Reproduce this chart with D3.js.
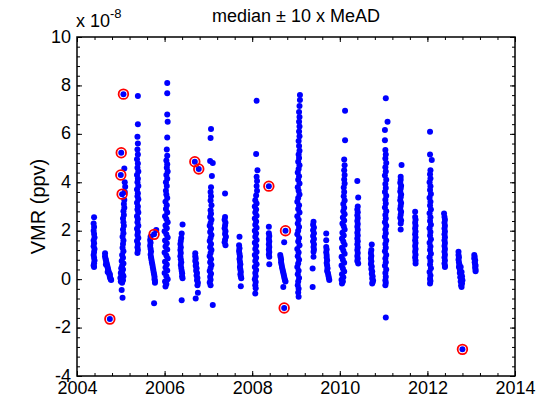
<!DOCTYPE html>
<html lang="en">
<head>
<meta charset="UTF-8">
<title>median ± 10 x MeAD</title>
<script src="https://d3js.org/d3.v7.min.js"></script>
<style>
  body { margin: 0; background: #fff; }
  svg text { font-family: "Liberation Sans", Arial, Helvetica, sans-serif; fill: #000; }
</style>
</head>
<body>
<svg id="chart" width="550" height="399"></svg>
<script>
// 测量点 [year, VMR in 1e-8 ppv], grouped by campaign year
const obs2004 = [
  [2004.39,2.56],[2004.38,2.3],[2004.39,2.15],[2004.38,2.0],[2004.39,1.86],[2004.40,1.72],[2004.38,1.6],[2004.39,1.48],
  [2004.38,1.36],[2004.40,1.24],[2004.39,1.12],[2004.38,1.0],[2004.39,0.88],[2004.40,0.77],[2004.39,0.66],[2004.38,0.56],[2004.39,0.5],
  [2004.64,1.07],[2004.64,0.95],[2004.65,0.85],[2004.66,0.78],[2004.67,0.7],[2004.68,0.62],[2004.69,0.55],[2004.70,0.48],
  [2004.71,0.4],[2004.72,0.33],[2004.73,0.25],[2004.74,0.18],[2004.75,0.1],[2004.76,0.05],[2004.77,0.0],[2004.78,-0.04],
  [2004.66,0.6],[2004.70,0.3],[2004.75,0.2]
];
const obs2005 = [
  [2005.08,4.57],[2005.09,4.0],[2005.10,3.82],[2005.09,3.6],[2005.08,3.27],[2005.07,3.1],[2005.08,2.95],[2005.06,2.8],
  [2005.07,2.65],[2005.05,2.5],[2005.06,2.35],[2005.07,2.2],[2005.05,2.05],[2005.06,1.9],[2005.04,1.75],[2005.06,1.6],
  [2005.05,1.45],[2005.04,1.3],[2005.06,1.15],[2005.03,1.0],[2005.05,0.88],[2005.02,0.75],[2005.06,0.65],[2005.03,0.55],
  [2005.01,0.45],[2005.05,0.4],[2005.02,0.32],[2005.00,0.25],[2005.04,0.2],[2005.06,0.12],[2005.01,0.1],[2004.99,0.05],
  [2005.03,0.02],[2005.05,-0.05],[2005.00,-0.1],[2005.03,-0.15],[2005.02,-0.45],[2005.04,-0.77],
  [2005.39,7.56],[2005.39,6.4],[2005.38,5.88],[2005.39,5.6],[2005.38,5.35],[2005.39,5.15],[2005.37,4.95],[2005.39,4.78],
  [2005.38,4.6],[2005.40,4.45],[2005.37,4.3],[2005.39,4.15],[2005.38,4.0],[2005.40,3.85],[2005.37,3.7],[2005.39,3.55],
  [2005.38,3.42],[2005.40,3.3],[2005.37,3.15],[2005.39,3.0],[2005.38,2.88],[2005.40,2.75],[2005.37,2.6],[2005.39,2.48],
  [2005.38,2.35],[2005.40,2.2],[2005.37,2.08],[2005.39,1.95],[2005.38,1.82],[2005.40,1.7],[2005.37,1.58],[2005.39,1.45],
  [2005.38,1.32],[2005.39,1.2],[2005.38,1.08],
  [2005.81,2.03],[2005.68,1.75],[2005.67,1.62],[2005.68,1.5],[2005.67,1.38],[2005.68,1.26],[2005.69,1.14],[2005.68,1.02],
  [2005.69,0.9],[2005.70,0.8],[2005.71,0.7],[2005.72,0.6],[2005.73,0.5],[2005.74,0.4],[2005.75,0.3],[2005.76,0.2],
  [2005.77,0.1],[2005.77,0.0],[2005.78,-0.08],[2005.78,-0.15],[2005.76,-1.0]
];
const obs2006 = [
  [2006.06,8.1],[2006.06,7.68],[2006.06,6.8],[2006.07,6.5],[2006.06,5.85],[2006.05,5.35],[2006.06,5.1],[2006.04,4.9],
  [2006.06,4.75],[2006.05,4.6],[2006.07,4.45],[2006.04,4.3],[2006.06,4.15],[2006.03,4.0],[2006.05,3.85],[2006.03,3.65],
  [2006.04,3.5],[2006.06,3.35],[2006.02,3.2],[2006.05,3.05],[2006.03,2.9],[2006.06,2.75],[2006.01,2.6],[2006.04,2.48],
  [2006.07,2.35],[2006.02,2.22],[2006.05,2.1],[2006.00,1.98],[2006.04,1.85],[2006.07,1.72],[2006.01,1.6],[2006.05,1.48],
  [2006.02,1.35],[2006.06,1.22],[2006.00,1.1],[2006.04,0.98],[2006.07,0.85],[2006.01,0.72],[2006.05,0.6],[2006.02,0.48],
  [2006.06,0.36],[2006.00,0.25],[2006.04,0.12],[2006.07,0.0],[2006.01,-0.1],[2006.04,-0.2],[2006.02,-0.3],
  [2006.41,2.26],[2006.39,1.89],[2006.38,1.7],[2006.37,1.58],[2006.36,1.45],[2006.37,1.32],[2006.36,1.2],[2006.37,1.08],
  [2006.36,0.95],[2006.37,0.82],[2006.38,0.7],[2006.37,0.58],[2006.38,0.46],[2006.39,0.35],[2006.40,0.24],[2006.40,0.12],
  [2006.41,0.04],[2006.39,-0.87],
  [2006.70,1.07],[2006.70,0.95],[2006.71,0.85],[2006.70,0.75],[2006.72,0.65],[2006.71,0.55],[2006.73,0.45],[2006.72,0.35],
  [2006.74,0.25],[2006.73,0.15],[2006.75,0.05],[2006.74,-0.05],[2006.76,-0.15],[2006.75,-0.25],[2006.76,-0.56],[2006.71,-0.8]
];
const obs2007 = [
  [2007.06,6.2],[2007.05,5.83],[2007.04,4.88],[2007.10,4.8],[2007.08,4.26],[2007.06,3.8],[2007.05,3.6],[2007.06,3.42],
  [2007.05,3.25],[2007.07,3.05],[2007.05,2.85],[2007.06,2.7],[2007.04,2.57],[2007.07,2.45],[2007.05,2.32],[2007.03,2.2],
  [2007.06,2.08],[2007.04,1.95],[2007.07,1.82],[2007.05,1.7],[2007.03,1.58],[2007.06,1.45],[2007.04,1.32],[2007.07,1.2],
  [2007.05,1.08],[2007.03,0.95],[2007.06,0.82],[2007.04,0.7],[2007.07,0.58],[2007.05,0.46],[2007.03,0.34],[2007.06,0.22],
  [2007.04,0.1],[2007.05,-0.02],[2007.03,-0.14],[2007.05,-0.25],[2007.10,-1.07],
  [2007.38,3.54],[2007.38,2.57],[2007.37,2.45],[2007.39,2.33],[2007.38,2.22],[2007.37,2.1],[2007.39,1.98],[2007.38,1.86],
  [2007.40,1.75],[2007.38,1.63],[2007.37,1.52],[2007.39,1.4],
  [2007.71,1.75],[2007.70,1.4],[2007.71,1.28],[2007.70,1.16],[2007.71,1.05],[2007.72,0.94],[2007.71,0.83],[2007.72,0.72],
  [2007.73,0.61],[2007.72,0.5],[2007.73,0.4],[2007.74,0.3],[2007.73,0.2],[2007.74,0.12],[2007.75,0.04],[2007.74,-0.29]
];
const obs2008 = [
  [2008.10,7.37],[2008.09,5.17],[2008.12,4.5],[2008.10,4.23],[2008.11,4.05],[2008.10,3.85],[2008.11,3.65],[2008.09,3.45],
  [2008.07,3.26],[2008.10,3.12],[2008.06,3.0],[2008.09,2.88],[2008.07,2.75],[2008.10,2.62],[2008.06,2.5],[2008.09,2.38],
  [2008.07,2.25],[2008.10,2.12],[2008.06,2.0],[2008.09,1.88],[2008.07,1.75],[2008.10,1.62],[2008.06,1.5],[2008.09,1.38],
  [2008.07,1.25],[2008.10,1.12],[2008.06,1.0],[2008.09,0.88],[2008.07,0.75],[2008.10,0.62],[2008.06,0.5],[2008.09,0.38],
  [2008.07,0.25],[2008.08,0.12],[2008.06,0.0],[2008.08,-0.12],[2008.07,-0.25],[2008.08,-0.38],[2008.07,-0.59],
  [2008.38,2.16],[2008.38,1.9],[2008.39,1.78],[2008.38,1.66],[2008.39,1.55],[2008.38,1.44],[2008.39,1.33],[2008.38,1.22],
  [2008.39,1.12],[2008.38,1.02],[2008.39,0.92],[2008.39,0.62],
  [2008.73,1.52],[2008.64,1.0],[2008.65,0.9],[2008.66,0.8],[2008.66,0.7],[2008.67,0.6],[2008.68,0.5],[2008.69,0.42],
  [2008.70,0.34],[2008.71,0.26],[2008.72,0.18],[2008.73,0.1],[2008.74,0.02],[2008.75,-0.06],[2008.76,-0.1],[2008.71,-0.32]
];
const obs2009 = [
  [2009.09,7.6],[2009.09,7.4],[2009.08,7.15],[2009.07,6.9],[2009.08,6.7],[2009.07,6.5],[2009.08,6.3],[2009.07,6.1],
  [2009.08,5.9],[2009.06,5.7],[2009.07,5.5],[2009.08,5.3],[2009.06,5.15],[2009.07,5.0],[2009.05,4.85],[2009.08,4.7],
  [2009.06,4.55],[2009.04,4.4],[2009.07,4.25],[2009.05,4.1],[2009.08,3.95],[2009.04,3.8],[2009.06,3.65],[2009.08,3.5],
  [2009.05,3.35],[2009.03,3.2],[2009.07,3.05],[2009.05,2.9],[2009.08,2.75],[2009.03,2.6],[2009.06,2.45],[2009.04,2.3],
  [2009.07,2.15],[2009.05,2.0],[2009.03,1.85],[2009.07,1.7],[2009.05,1.55],[2009.08,1.4],[2009.03,1.25],[2009.06,1.1],
  [2009.04,0.95],[2009.07,0.8],[2009.05,0.65],[2009.03,0.5],[2009.06,0.35],[2009.04,0.2],[2009.07,0.05],[2009.05,-0.1],
  [2009.04,-0.25],[2009.06,-0.4],[2009.05,-0.55],[2009.06,-0.73],
  [2009.40,2.37],[2009.39,2.25],[2009.41,2.13],[2009.39,2.02],[2009.41,1.9],[2009.39,1.78],[2009.41,1.66],[2009.39,1.55],
  [2009.41,1.44],[2009.40,1.33],[2009.41,1.22],[2009.40,1.13],[2009.40,0.92],[2009.38,0.44],[2009.38,-0.32],
  [2009.69,1.89],[2009.69,1.61],[2009.69,1.33],[2009.70,1.22],[2009.69,1.11],[2009.70,1.0],[2009.70,0.89],[2009.71,0.78],
  [2009.70,0.67],[2009.71,0.56],[2009.72,0.45],[2009.71,0.34],[2009.73,0.24],[2009.74,0.14],[2009.75,0.05],[2009.76,-0.04]
];
const obs2010 = [
  [2010.12,6.95],[2010.12,5.74],[2010.10,4.94],[2010.11,4.7],[2010.10,4.5],[2010.11,4.3],[2010.10,4.12],[2010.11,3.95],
  [2010.09,3.78],[2010.10,3.6],[2010.09,3.42],[2010.11,3.25],[2010.08,3.1],[2010.10,2.95],[2010.08,2.8],[2010.11,2.68],
  [2010.07,2.55],[2010.10,2.42],[2010.06,2.3],[2010.09,2.18],[2010.11,2.05],[2010.06,1.92],[2010.09,1.8],[2010.05,1.68],
  [2010.08,1.55],[2010.11,1.42],[2010.05,1.3],[2010.08,1.18],[2010.11,1.05],[2010.04,0.92],[2010.07,0.8],[2010.10,0.68],
  [2010.04,0.56],[2010.07,0.44],[2010.10,0.32],[2010.05,0.2],[2010.08,0.08],[2010.04,-0.02],[2010.07,-0.1],[2010.05,-0.18],
  [2010.40,4.05],[2010.42,3.37],[2010.41,3.0],[2010.40,2.88],[2010.41,2.76],[2010.40,2.64],[2010.41,2.52],[2010.40,2.4],
  [2010.41,2.28],[2010.40,2.16],[2010.41,2.04],[2010.40,1.92],[2010.41,1.8],[2010.40,1.68],[2010.41,1.56],[2010.40,1.44],
  [2010.41,1.32],[2010.40,1.2],[2010.41,1.08],[2010.40,0.96],[2010.41,0.85],[2010.40,0.75],[2010.42,0.65],
  [2010.73,1.43],[2010.72,1.2],[2010.71,1.08],[2010.72,0.96],[2010.71,0.85],[2010.72,0.74],[2010.71,0.63],[2010.73,0.52],
  [2010.72,0.42],[2010.74,0.32],[2010.73,0.22],[2010.75,0.12],[2010.74,0.03],[2010.76,-0.06],[2010.75,-0.12],[2010.74,-0.18]
];
const obs2011 = [
  [2011.05,7.47],[2011.09,6.5],[2011.03,6.16],[2011.03,5.74],[2011.04,5.33],[2011.05,5.15],[2011.04,4.98],[2011.06,4.8],
  [2011.04,4.62],[2011.05,4.45],[2011.03,4.28],[2011.06,4.1],[2011.04,3.93],[2011.05,3.76],[2011.03,3.6],[2011.06,3.44],
  [2011.04,3.28],[2011.05,3.12],[2011.03,2.96],[2011.06,2.8],[2011.04,2.65],[2011.05,2.5],[2011.03,2.35],[2011.06,2.2],
  [2011.04,2.05],[2011.05,1.9],[2011.03,1.75],[2011.06,1.6],[2011.04,1.45],[2011.05,1.3],[2011.03,1.15],[2011.06,1.0],
  [2011.04,0.85],[2011.05,0.7],[2011.03,0.55],[2011.06,0.4],[2011.04,0.25],[2011.05,0.1],[2011.04,-0.05],[2011.05,-0.15],
  [2011.04,-0.25],[2011.05,-1.58],
  [2011.41,4.71],[2011.39,4.23],[2011.39,4.1],[2011.38,3.98],[2011.40,3.86],[2011.39,3.74],[2011.38,3.62],[2011.40,3.5],
  [2011.39,3.38],[2011.38,3.26],[2011.40,3.14],[2011.39,3.02],[2011.38,2.9],[2011.40,2.78],[2011.39,2.66],[2011.38,2.54],
  [2011.40,2.42],[2011.39,2.3],[2011.39,2.05],
  [2011.72,2.78],[2011.72,2.57],[2011.73,2.45],[2011.72,2.33],[2011.73,2.21],[2011.72,2.09],[2011.73,1.97],[2011.72,1.85],
  [2011.73,1.73],[2011.72,1.61],[2011.73,1.49],[2011.72,1.37],[2011.73,1.25],[2011.72,1.13],[2011.73,1.01],[2011.72,0.89],
  [2011.73,0.77],[2011.73,0.65]
];
const obs2012 = [
  [2012.06,6.09],[2012.06,5.15],[2012.10,4.92],[2012.07,4.5],[2012.06,4.33],[2012.07,4.16],[2012.05,4.0],[2012.07,3.84],
  [2012.06,3.68],[2012.08,3.52],[2012.05,3.36],[2012.07,3.2],[2012.06,3.04],[2012.08,2.88],[2012.05,2.72],[2012.07,2.56],
  [2012.06,2.4],[2012.08,2.25],[2012.05,2.1],[2012.07,1.95],[2012.06,1.8],[2012.08,1.65],[2012.05,1.5],[2012.07,1.35],
  [2012.06,1.2],[2012.08,1.05],[2012.05,0.9],[2012.07,0.75],[2012.06,0.6],[2012.08,0.45],[2012.05,0.3],[2012.07,0.15],
  [2012.06,0.02],[2012.07,-0.08],[2012.06,-0.18],
  [2012.38,2.71],[2012.39,2.57],[2012.40,2.45],[2012.39,2.33],[2012.40,2.21],[2012.39,2.09],[2012.40,1.97],[2012.39,1.85],
  [2012.40,1.73],[2012.39,1.61],[2012.40,1.49],[2012.39,1.37],[2012.40,1.25],[2012.39,1.13],[2012.40,1.01],[2012.39,0.89],
  [2012.40,0.77],[2012.39,0.65],[2012.40,0.55],[2012.40,0.5],
  [2012.71,1.13],[2012.71,1.0],[2012.72,0.9],[2012.71,0.8],[2012.72,0.7],[2012.73,0.6],[2012.72,0.5],[2012.74,0.42],
  [2012.76,0.5],[2012.75,0.35],[2012.78,0.3],[2012.74,0.25],[2012.77,0.18],[2012.79,0.12],[2012.75,0.08],[2012.78,0.02],
  [2012.80,-0.05],[2012.76,-0.1],[2012.79,-0.18],[2012.77,-0.25],[2012.78,-0.32]
];
const obs2013 = [
  [2013.07,1.0],[2013.08,0.92],[2013.07,0.85],[2013.09,0.78],[2013.08,0.7],[2013.09,0.62],[2013.10,0.55],[2013.09,0.48],
  [2013.10,0.4],[2013.10,0.33]
];
// 超出 median ± 10 x MeAD 的点
const flagged = [
  [2004.75,-1.65],[2005.06,7.64],[2005.01,5.22],[2005.00,4.3],[2005.03,3.51],[2005.76,1.85],
  [2006.69,4.85],[2006.78,4.55],[2008.38,3.84],[2008.76,2.0],[2008.73,-1.19],[2012.80,-2.9]
];

const xTicks = [2004, 2006, 2008, 2010, 2012, 2014];
const yTicks = [-4, -2, 0, 2, 4, 6, 8, 10];
const xMinor = d3.range(2004, 2014.001, 0.4);
const yMinor = d3.range(-4, 10.001, 0.4);

const allObs = [].concat(obs2004, obs2005, obs2006, obs2007, obs2008, obs2009,
                         obs2010, obs2011, obs2012, obs2013, flagged);

const svg = d3.select("#chart");
const margin = { top: 37, right: 35, bottom: 23, left: 77 };
const width = +svg.attr("width"), height = +svg.attr("height");
const x0 = margin.left, x1 = width - margin.right;
const y0 = margin.top, y1 = height - margin.bottom;

const x = d3.scaleLinear().domain([2004, 2014]).range([x0, x1]);
const y = d3.scaleLinear().domain([-4, 10]).range([y1, y0]);

const font = "18px";

// 数据点
svg.append("g")
  .selectAll("circle")
  .data(allObs)
  .enter()
  .append("circle")
  .attr("cx", d => x(d[0]))
  .attr("cy", d => y(d[1]))
  .attr("r", 3.0)
  .style("fill", "#0000ff");

// 红圈
svg.append("g")
  .selectAll("circle")
  .data(flagged)
  .enter()
  .append("circle")
  .attr("cx", d => x(d[0]))
  .attr("cy", d => y(d[1]))
  .attr("r", 4.8)
  .style("fill", "none")
  .style("stroke", "#ff0000")
  .style("stroke-width", 1.8);

// 坐标轴 (ticks inward on all four sides)
function styleAxis(g) {
  g.select(".domain").remove();
  g.selectAll("line").style("stroke", "#000").style("stroke-width", 1);
  g.selectAll("text").style("font-size", font).style("font-family", "Liberation Sans, Arial, sans-serif");
}

svg.append("g").attr("transform", `translate(0,${y1})`)
  .call(d3.axisBottom(x).tickValues(xMinor).tickFormat("").tickSizeInner(-3).tickSizeOuter(0)).call(styleAxis);
svg.append("g").attr("transform", `translate(0,${y1})`)
  .call(d3.axisBottom(x).tickValues(xTicks).tickFormat(d3.format("d")).tickSizeInner(-5).tickSizeOuter(0).tickPadding(5))
  .call(styleAxis);
svg.append("g").attr("transform", `translate(0,${y0})`)
  .call(d3.axisTop(x).tickValues(xMinor).tickFormat("").tickSizeInner(-3).tickSizeOuter(0)).call(styleAxis);
svg.append("g").attr("transform", `translate(0,${y0})`)
  .call(d3.axisTop(x).tickValues(xTicks).tickFormat("").tickSizeInner(-5).tickSizeOuter(0)).call(styleAxis);

svg.append("g").attr("transform", `translate(${x0},0)`)
  .call(d3.axisLeft(y).tickValues(yMinor).tickFormat("").tickSizeInner(-3).tickSizeOuter(0)).call(styleAxis);
svg.append("g").attr("transform", `translate(${x0},0)`)
  .call(d3.axisLeft(y).tickValues(yTicks).tickFormat(d => d < 0 ? "-" + Math.abs(d) : d).tickSizeInner(-5).tickSizeOuter(0).tickPadding(6))
  .call(styleAxis)
  .call(g => g.selectAll("text").attr("dy", "0.28em"));
svg.append("g").attr("transform", `translate(${x1},0)`)
  .call(d3.axisRight(y).tickValues(yMinor).tickFormat("").tickSizeInner(-3).tickSizeOuter(0)).call(styleAxis);
svg.append("g").attr("transform", `translate(${x1},0)`)
  .call(d3.axisRight(y).tickValues(yTicks).tickFormat("").tickSizeInner(-5).tickSizeOuter(0)).call(styleAxis);

// 边框
svg.append("rect")
  .attr("x", x0).attr("y", y0)
  .attr("width", x1 - x0).attr("height", y1 - y0)
  .style("fill", "none").style("stroke", "#000").style("stroke-width", 1.5);

// 标题
svg.append("text")
  .attr("x", (x0 + x1) / 2)
  .attr("y", 22)
  .attr("text-anchor", "middle")
  .style("font-size", font)
  .text("median ± 10 x MeAD");

// 指数标记 x 10^-8
const expo = svg.append("text").attr("x", 76).attr("y", 27).style("font-size", font);
expo.append("tspan").text("x 10");
expo.append("tspan").attr("dy", -9).style("font-size", "13px").text("-8");

// y轴标签
svg.append("text")
  .attr("transform", "rotate(-90)")
  .attr("x", -(y0 + y1) / 2)
  .attr("y", 45)
  .attr("text-anchor", "middle")
  .style("font-size", "20px")
  .text("VMR (ppv)");
</script>
</body>
</html>
